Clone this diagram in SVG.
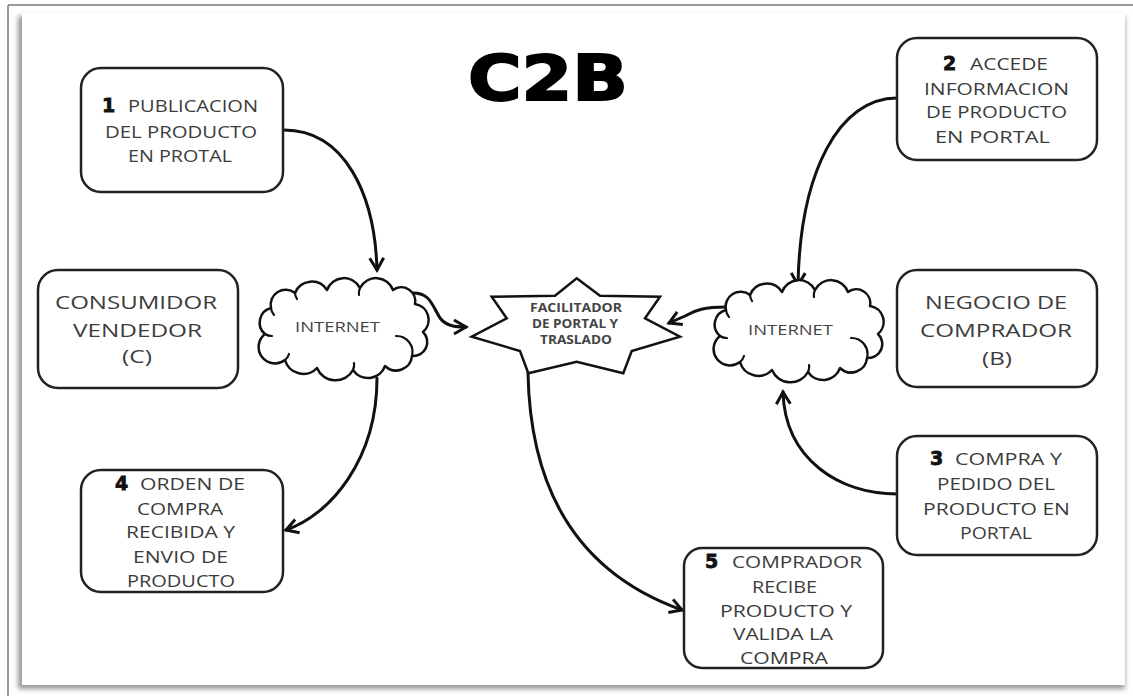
<svg xmlns="http://www.w3.org/2000/svg" width="1133" height="696" viewBox="0 0 1133 696">
<defs>
  <filter id="sh" x="-5%" y="-5%" width="110%" height="110%"><feGaussianBlur stdDeviation="2.5"/></filter>
  <marker id="ah" viewBox="-15 -10 18 20" refX="0" refY="0" markerWidth="18" markerHeight="20" markerUnits="userSpaceOnUse" orient="auto">
    <path d="M-12,-7 L0,0 L-12,7" fill="none" stroke="#111" stroke-width="3" stroke-linejoin="miter"/>
  </marker>
  <path id="cloud" d="M10,56 A15 15 0 0 1 16,30 A15 15 0 0 1 40,15 A18 18 0 0 1 72,12 A18 18 0 0 1 105,10 A18 18 0 0 1 138,12 A14 14 0 0 1 160,26 A16 16 0 0 1 168,54 A14 14 0 0 1 157,78 A16 16 0 0 1 130,88 A18 18 0 0 1 98,92 A20 20 0 0 1 62,90 A19 19 0 0 1 30,82 A15 15 0 0 1 10,56 Z"/>
  <path id="curls" d="M16,30 A12 12 0 0 0 19,37 M40,15 A12 12 0 0 0 42,21 M105,10 A12 12 0 0 0 104,17 M157,78 A16 16 0 0 0 141,58 M98,92 A12 12 0 0 0 99,85 M30,82 A12 12 0 0 0 34,76 M10,56 A12 12 0 0 0 17,58"/>
</defs>
<style>
  .box{fill:#fff;stroke:#222;stroke-width:2.5}
  .t{font-family:"Open Sans","Liberation Sans",sans-serif;font-size:17px;fill:#3c3c3c}
  .big{font-size:19px}
  .n{font-family:"DejaVu Sans","Liberation Sans",sans-serif;font-weight:bold;font-size:19px;fill:#111;stroke:#111;stroke-width:0.8}
  .s{font-family:"Open Sans","Liberation Sans",sans-serif;font-weight:bold;font-size:12px;fill:#444}
  .i{font-family:"Open Sans","Liberation Sans",sans-serif;font-size:14px;fill:#444}
  .c{fill:none;stroke:#111;stroke-width:3;stroke-linecap:round}
  .cl{fill:#fff;stroke:#111;stroke-width:2.5;stroke-linejoin:round}
  .cu{fill:none;stroke:#111;stroke-width:2.2;stroke-linecap:round}
</style>

<!-- frame -->
<g id="frame">
  <rect width="1133" height="696" fill="#fff"/>
  <line x1="8" y1="5" x2="1133" y2="5" stroke="#777" stroke-width="1.5"/>
  <line x1="8" y1="5" x2="8" y2="696" stroke="#777" stroke-width="1.5"/>
  <rect x="18" y="16" width="1107" height="673" fill="#999" filter="url(#sh)"/>
  <rect x="22" y="13" width="1103" height="672" fill="#fff"/>
</g>

<g id="title">
  <text x="468" y="100" font-family="DejaVu Sans, sans-serif" font-weight="bold" font-size="62" fill="#000" stroke="#000" stroke-width="2" textLength="160" lengthAdjust="spacingAndGlyphs">C2B</text>
</g>

<g id="connectors">
  <path class="c" d="M284,130 C345,130 375,195 377,270" marker-end="url(#ah)"/>
  <path class="c" d="M897,98 C840,98 800,170 798,285" marker-end="url(#ah)"/>
  <path class="c" d="M413,293 C430,293 432,305 440,318 C446,326 455,327 466,327" marker-end="url(#ah)"/>
  <path class="c" d="M726,307 C705,307 695,310 685,316 L669,323" marker-end="url(#ah)"/>
  <path class="c" d="M377,378 C377,460 330,515 286,530" marker-end="url(#ah)"/>
  <path class="c" d="M528,373 C530,480 570,570 682,610" marker-end="url(#ah)"/>
  <path class="c" d="M897,494 C840,494 785,460 783,392" marker-end="url(#ah)"/>
</g>

<g id="cloud-left" transform="translate(255,278)">
  <use href="#cloud" class="cl"/>
  <use href="#curls" class="cu"/>
  <text class="i" x="40" y="54" textLength="85" lengthAdjust="spacingAndGlyphs">INTERNET</text>
</g>

<g id="cloud-right" transform="translate(710,280)">
  <use href="#cloud" class="cl"/>
  <use href="#curls" class="cu"/>
  <text class="i" x="38" y="55" textLength="85" lengthAdjust="spacingAndGlyphs">INTERNET</text>
</g>

<g id="facilitador">
  <polygon points="576.7,278.3 600,295.7 660,296.7 645,318.3 680,336.7 631.7,351 623.3,373.3 576.7,361.7 528.3,373.3 520,351 471.7,336.7 506.7,318.3 491.7,296.7 555,295.7" fill="#fff" stroke="#111" stroke-width="2.5" stroke-linejoin="miter"/>
  <text class="s" x="530" y="312" textLength="92" lengthAdjust="spacingAndGlyphs">FACILITADOR</text>
  <text class="s" x="532" y="328" textLength="86" lengthAdjust="spacingAndGlyphs">DE PORTAL Y</text>
  <text class="s" x="540" y="344" textLength="72" lengthAdjust="spacingAndGlyphs">TRASLADO</text>
</g>

<g id="step1">
  <rect class="box" x="81" y="68" width="202" height="124" rx="20"/>
  <text class="n" x="102" y="112">1</text>
  <text class="t" x="128" y="112" textLength="130" lengthAdjust="spacingAndGlyphs">PUBLICACION</text>
  <text class="t" x="105" y="138" textLength="152" lengthAdjust="spacingAndGlyphs">DEL PRODUCTO</text>
  <text class="t" x="128" y="162" textLength="104" lengthAdjust="spacingAndGlyphs">EN PROTAL</text>
</g>

<g id="step2">
  <rect class="box" x="897" y="38" width="200" height="122" rx="20"/>
  <text class="n" x="943" y="70">2</text>
  <text class="t" x="970" y="70" textLength="78" lengthAdjust="spacingAndGlyphs">ACCEDE</text>
  <text class="t" x="924" y="95" textLength="145" lengthAdjust="spacingAndGlyphs">INFORMACION</text>
  <text class="t" x="926" y="118" textLength="141" lengthAdjust="spacingAndGlyphs">DE PRODUCTO</text>
  <text class="t" x="935" y="143" textLength="115" lengthAdjust="spacingAndGlyphs">EN PORTAL</text>
</g>

<g id="consumidor">
  <rect class="box" x="38" y="270" width="200" height="118" rx="20"/>
  <text class="t big" x="55" y="309" textLength="162" lengthAdjust="spacingAndGlyphs">CONSUMIDOR</text>
  <text class="t big" x="73" y="337" textLength="129" lengthAdjust="spacingAndGlyphs">VENDEDOR</text>
  <text class="t big" x="122" y="363" textLength="30" lengthAdjust="spacingAndGlyphs">(C)</text>
</g>

<g id="negocio">
  <rect class="box" x="897" y="270" width="200" height="117" rx="20"/>
  <text class="t big" x="925" y="309" textLength="142" lengthAdjust="spacingAndGlyphs">NEGOCIO DE</text>
  <text class="t big" x="920" y="337" textLength="152" lengthAdjust="spacingAndGlyphs">COMPRADOR</text>
  <text class="t big" x="982" y="365" textLength="30" lengthAdjust="spacingAndGlyphs">(B)</text>
</g>

<g id="step3">
  <rect class="box" x="897" y="436" width="200" height="119" rx="20"/>
  <text class="n" x="930" y="465">3</text>
  <text class="t" x="955" y="465" textLength="107" lengthAdjust="spacingAndGlyphs">COMPRA Y</text>
  <text class="t" x="937" y="490" textLength="118" lengthAdjust="spacingAndGlyphs">PEDIDO DEL</text>
  <text class="t" x="923" y="515" textLength="147" lengthAdjust="spacingAndGlyphs">PRODUCTO EN</text>
  <text class="t" x="960" y="539" textLength="72" lengthAdjust="spacingAndGlyphs">PORTAL</text>
</g>

<g id="step4">
  <rect class="box" x="81" y="470" width="202" height="122" rx="20"/>
  <text class="n" x="115" y="490">4</text>
  <text class="t" x="140" y="490" textLength="105" lengthAdjust="spacingAndGlyphs">ORDEN DE</text>
  <text class="t" x="137" y="515" textLength="86" lengthAdjust="spacingAndGlyphs">COMPRA</text>
  <text class="t" x="126" y="538" textLength="109" lengthAdjust="spacingAndGlyphs">RECIBIDA Y</text>
  <text class="t" x="133" y="563" textLength="95" lengthAdjust="spacingAndGlyphs">ENVIO DE</text>
  <text class="t" x="127" y="587" textLength="108" lengthAdjust="spacingAndGlyphs">PRODUCTO</text>
</g>

<g id="step5">
  <rect class="box" x="684" y="548" width="199" height="120" rx="18"/>
  <text class="n" x="705" y="568">5</text>
  <text class="t" x="732" y="568" textLength="130" lengthAdjust="spacingAndGlyphs">COMPRADOR</text>
  <text class="t" x="752" y="593" textLength="65" lengthAdjust="spacingAndGlyphs">RECIBE</text>
  <text class="t" x="720" y="617" textLength="132" lengthAdjust="spacingAndGlyphs">PRODUCTO Y</text>
  <text class="t" x="733" y="640" textLength="100" lengthAdjust="spacingAndGlyphs">VALIDA LA</text>
  <text class="t" x="740" y="664" textLength="88" lengthAdjust="spacingAndGlyphs">COMPRA</text>
</g>
</svg>
